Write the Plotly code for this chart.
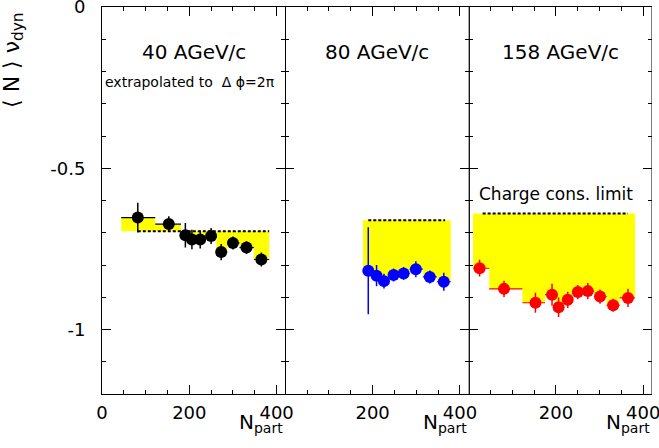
import plotly.graph_objects as go

# ---------------- data ----------------
npart_40 = [82, 153, 191, 206, 225, 250, 273, 300, 331, 365]
nu_40 = [-0.653, -0.673, -0.708, -0.721, -0.721, -0.710, -0.760, -0.732, -0.746, -0.783]
err_40 = [0.046, 0.024, 0.038, 0.030, 0.028, 0.025, 0.025, 0.020, 0.020, 0.022]
edges_40 = [44, 122, 181, 198, 216, 237, 262, 287, 315, 348, 383]
limit_40 = -0.695
limit_x_40 = [82, 383]

npart_80 = [190, 209, 226, 248, 271, 299, 331, 363]
nu_80 = [-0.818, -0.833, -0.850, -0.831, -0.826, -0.813, -0.837, -0.852]
err_80 = [0.135, 0.033, 0.023, 0.020, 0.020, 0.025, 0.020, 0.028]
edges_80 = [178, 200, 217, 237, 260, 285, 315, 347, 379]
limit_80 = -0.661
limit_x_80 = [190, 366]

npart_158 = [25, 81, 153, 191, 206, 227, 250, 273, 301, 331, 365]
nu_158 = [-0.810, -0.874, -0.917, -0.892, -0.931, -0.908, -0.884, -0.881, -0.898, -0.925, -0.902]
err_158 = [0.026, 0.025, 0.031, 0.034, 0.030, 0.025, 0.022, 0.025, 0.022, 0.020, 0.028]
edges_158 = [10, 47, 123, 175, 198, 216, 238, 261, 287, 316, 346, 381]
limit_158 = -0.640
limit_x_158 = [32, 365]

energies = ["40 AGeV/c", "80 AGeV/c", "158 AGeV/c"]
colors = ["#000000", "#0000ff", "#ff0000"]

panels = [
    (npart_40, nu_40, err_40, edges_40, limit_40, limit_x_40),
    (npart_80, nu_80, err_80, edges_80, limit_80, limit_x_80),
    (npart_158, nu_158, err_158, edges_158, limit_158, limit_x_158),
]

FONT = "DejaVu Sans"
fig = go.Figure()

for k, (xs, ys, es, edges, lim, limx) in enumerate(panels):
    xa = "x" if k == 0 else f"x{k+1}"
    ya = "y" if k == 0 else f"y{k+1}"
    # yellow band between data steps and limit
    px, py = [], []
    for i, v in enumerate(ys):
        px += [edges[i], edges[i + 1]]
        py += [v, v]
    px += [edges[-1], edges[0], edges[0]]
    py += [lim, lim, ys[0]]
    fig.add_trace(go.Scatter(x=px, y=py, mode="lines", fill="toself",
                             fillcolor="#ffff00", line=dict(width=0),
                             xaxis=xa, yaxis=ya, hoverinfo="skip", showlegend=False))
    # charge conservation limit (dashed)
    fig.add_trace(go.Scatter(x=limx, y=[lim, lim], mode="lines",
                             line=dict(color="black", width=2, dash="3px,2px"),
                             xaxis=xa, yaxis=ya, showlegend=False))
    # horizontal bin segments
    sx, sy = [], []
    for i, v in enumerate(ys):
        sx += [edges[i], edges[i + 1], None]
        sy += [v, v, None]
    fig.add_trace(go.Scatter(x=sx, y=sy, mode="lines",
                             line=dict(color=colors[k], width=1.2),
                             xaxis=xa, yaxis=ya, showlegend=False))
    # points
    fig.add_trace(go.Scatter(x=xs, y=ys, mode="markers",
                             marker=dict(symbol="circle", size=12, color=colors[k]),
                             error_y=dict(type="data", array=es, visible=True,
                                          color=colors[k], thickness=1.5, width=0),
                             xaxis=xa, yaxis=ya, showlegend=False))

minor_x = [v for v in range(50, 420, 50) if v % 200 != 0]
minor_y = [-0.1, -0.2, -0.3, -0.4, -0.6, -0.7, -0.8, -0.9, -1.1]

axis_common = dict(showgrid=False, zeroline=False, showline=True, linecolor="black",
                   linewidth=1, mirror="allticks", ticks="inside", tickcolor="black",
                   tickwidth=1, ticklen=9, ticklabeloverflow="allow", automargin=False,
                   tickfont=dict(family=FONT, size=18, color="black"))

layout = dict(width=659, height=448, paper_bgcolor="white", plot_bgcolor="white",
              margin=dict(l=102, r=7, t=7, b=54), showlegend=False)

for k in range(3):
    xkey = "xaxis" if k == 0 else f"xaxis{k+1}"
    ykey = "yaxis" if k == 0 else f"yaxis{k+1}"
    xname = "x" if k == 0 else f"x{k+1}"
    yname = "y" if k == 0 else f"y{k+1}"
    if k == 0:
        tv, tt = [0, 200, 400], ["0", "200", "400"]
    else:
        tv, tt = [200, 400], ["200", "400"]
    layout[xkey] = dict(axis_common, domain=[k / 3, (k + 1) / 3], range=[0, 420],
                        anchor=yname, tickmode="array", tickvals=tv, ticktext=tt,
                        ticklabelstandoff=2,
                        minor=dict(tickvals=minor_x, ticks="inside", ticklen=4,
                                   tickcolor="black", tickwidth=1))
    layout[ykey] = dict(axis_common, domain=[0, 1], range=[-1.2, 0], anchor=xname,
                        tickmode="array", tickvals=[0, -0.5, -1],
                        ticktext=["0", "-0.5", "-1"], showticklabels=(k == 0),
                        showline=(k == 0),
                        ticklabelstandoff=12,
                        minor=dict(tickvals=minor_y, ticks="inside", ticklen=4,
                                   tickcolor="black", tickwidth=1))

fig.update_layout(**layout)

# thick border between panel 2 and 3, thin right border of panel 3
fig.add_shape(type="line", xref="x3", yref="y3", x0=0, x1=0, y0=-1.2, y1=0,
              line=dict(color="black", width=2.5))
fig.add_shape(type="line", xref="x3", yref="y3", x0=420, x1=420, y0=-1.2, y1=0,
              line=dict(color="black", width=1))

# annotations
for k in range(3):
    xname = "x" if k == 0 else f"x{k+1}"
    yname = "y" if k == 0 else f"y{k+1}"
    fig.add_annotation(x=210, y=-0.14, xref=xname, yref=yname, text=energies[k],
                       showarrow=False, font=dict(family=FONT, size=20, color="black"))
    fig.add_annotation(x=420, y=-0.035, xref=xname, yref="paper", text="N<sub>part</sub>",
                       showarrow=False, xanchor="right", yanchor="top",
                       font=dict(family=FONT, size=20, color="black"))

fig.add_annotation(x=202, y=-0.233, xref="x", yref="y",
                   text="extrapolated to  \u0394 \u03d5=2\u03c0", showarrow=False,
                   font=dict(family=FONT, size=14, color="black"))
fig.add_annotation(x=200, y=-0.581, xref="x3", yref="y3", text="Charge cons. limit",
                   showarrow=False, font=dict(family=FONT, size=17, color="black"))
fig.add_annotation(x=-0.162, y=0.863, xref="paper", yref="paper",
                   text="\u27e8 N \u27e9 \u03bd<sub>dyn</sub>", textangle=-90,
                   showarrow=False, xanchor="center", yanchor="middle",
                   font=dict(family=FONT, size=22, color="black"))

fig.write_html("out.html", post_script="document.body.style.margin='0';",
               config={"displayModeBar": False})
